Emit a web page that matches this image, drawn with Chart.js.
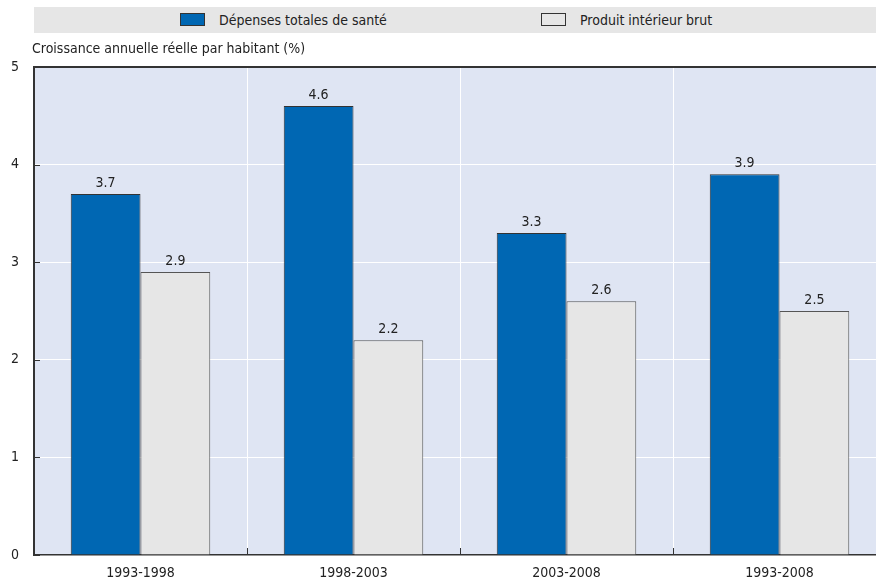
<!DOCTYPE html>
<html>
<head>
<meta charset="utf-8">
<script src="https://cdn.jsdelivr.net/npm/chart.js@4.4.0/dist/chart.umd.min.js"></script>
<style>
  html, body { margin: 0; padding: 0; background: #fff; overflow: hidden; }
  #wrap { position: relative; width: 886px; height: 585px; }
  #legend {
    position: absolute; left: 34px; top: 7px; width: 842px; height: 26px;
    background: #e6e6e6; color: #222;
    font: 14px "Liberation Sans Narrow", "DejaVu Sans Condensed", "Arial Narrow", sans-serif;
  }
  .lg-box { position: absolute; top: 6px; width: 23px; height: 11px; border: 1px solid #333; }
  .lg-text { position: absolute; top: 0; height: 26px; line-height: 26px; white-space: nowrap; }
  canvas { position: absolute; left: 0; top: 0; }
</style>
</head>
<body>
<div id="wrap">
  <canvas id="chart" width="886" height="585"></canvas>
  <div id="legend"></div>
</div>
<script>
// Periods and real annual per-capita growth (%)
const categories = ['1993-1998', '1998-2003', '2003-2008', '1993-2008'];
const healthSpending = [3.7, 4.6, 3.3, 3.9];
const gdp = [2.9, 2.2, 2.6, 2.5];
const seriesNames = ['Dépenses totales de santé', 'Produit intérieur brut'];
const yTicks = [0, 1, 2, 3, 4, 5];
const axisTitle = 'Croissance annuelle réelle par habitant (%)';

const FONT_FAMILY = '"Liberation Sans Narrow", "DejaVu Sans Condensed", "Arial Narrow", sans-serif';
const FONT_SIZE = 14;
const TEXT = '#222';
const BLUE = '#0067b3';
const GREY = '#e6e6e6';
const PLOT_BG = '#dfe5f3';

// Legend strip
const legendSpec = [
  { name: seriesNames[0], color: BLUE, boxX: 146, textX: 185 },
  { name: seriesNames[1], color: GREY, boxX: 507, textX: 546 }
];
const legendEl = document.getElementById('legend');
legendSpec.forEach(it => {
  const b = document.createElement('div');
  b.className = 'lg-box';
  b.style.left = it.boxX + 'px';
  b.style.background = it.color;
  legendEl.appendChild(b);
  const t = document.createElement('div');
  t.className = 'lg-text';
  t.style.left = it.textX + 'px';
  t.textContent = it.name;
  legendEl.appendChild(t);
});

const decorations = {
  id: 'decorations',
  beforeDraw(chart) {
    const { ctx, chartArea: a } = chart;
    ctx.save();
    ctx.fillStyle = PLOT_BG;
    ctx.fillRect(a.left, a.top, a.right - a.left, a.bottom - a.top);
    ctx.restore();
  },
  afterDraw(chart) {
    const { ctx, chartArea: a, scales } = chart;
    ctx.save();
    // top frame line
    ctx.strokeStyle = '#333';
    ctx.lineWidth = 2;
    ctx.beginPath();
    ctx.moveTo(a.left, a.top);
    ctx.lineTo(a.right, a.top);
    ctx.stroke();

    // inner tick marks on the value axis
    ctx.lineWidth = 1;
    yTicks.forEach(v => {
      const y = Math.round(scales.y.getPixelForValue(v)) + 0.5;
      ctx.beginPath();
      ctx.moveTo(a.left, y);
      ctx.lineTo(a.left + 6, y);
      ctx.stroke();
    });
    // inner tick marks between categories
    for (let i = 1; i < categories.length; i++) {
      const x = Math.round((scales.x.getPixelForValue(i - 1) + scales.x.getPixelForValue(i)) / 2) + 0.5;
      ctx.beginPath();
      ctx.moveTo(x, a.bottom);
      ctx.lineTo(x, a.bottom - 7);
      ctx.stroke();
    }

    // value labels above bars
    ctx.fillStyle = TEXT;
    ctx.font = FONT_SIZE + 'px ' + FONT_FAMILY;
    ctx.textAlign = 'center';
    ctx.textBaseline = 'bottom';
    chart.data.datasets.forEach((ds, di) => {
      chart.getDatasetMeta(di).data.forEach((bar, i) => {
        ctx.fillText(ds.data[i].toFixed(1), bar.x, bar.y - 4);
      });
    });

    // axis title above plot
    ctx.textAlign = 'left';
    ctx.textBaseline = 'middle';
    ctx.fillText(axisTitle, 32, 49);
    ctx.restore();
  }
};

new Chart(document.getElementById('chart'), {
  type: 'bar',
  data: {
    labels: categories,
    datasets: [
      { label: seriesNames[0], data: healthSpending, backgroundColor: BLUE, borderColor: '#333', borderWidth: 1 },
      { label: seriesNames[1], data: gdp, backgroundColor: GREY, borderColor: '#555', borderWidth: 1 }
    ]
  },
  options: {
    responsive: false,
    animation: false,
    devicePixelRatio: 1,
    layout: { padding: { top: 67, left: 0, right: 0, bottom: 0 } },
    datasets: { bar: { categoryPercentage: 0.655, barPercentage: 1.0 } },
    plugins: { legend: { display: false }, tooltip: { enabled: false } },
    scales: {
      x: {
        grid: { color: '#fff', lineWidth: 1, drawTicks: false, offset: true },
        border: { color: '#333', width: 1.5 },
        ticks: { color: TEXT, font: { family: FONT_FAMILY, size: FONT_SIZE }, padding: 10 },
        afterFit(s) { s.height = 30; }
      },
      y: {
        min: 0, max: 5,
        afterBuildTicks(s) { s.ticks = yTicks.map(v => ({ value: v })); },
        grid: { color: '#fff', lineWidth: 1, drawTicks: false },
        border: { color: '#333', width: 2 },
        ticks: { color: TEXT, font: { family: FONT_FAMILY, size: FONT_SIZE }, padding: 15 },
        afterFit(s) { s.width = 34; }
      }
    }
  },
  plugins: [decorations]
});
</script>
</body>
</html>
